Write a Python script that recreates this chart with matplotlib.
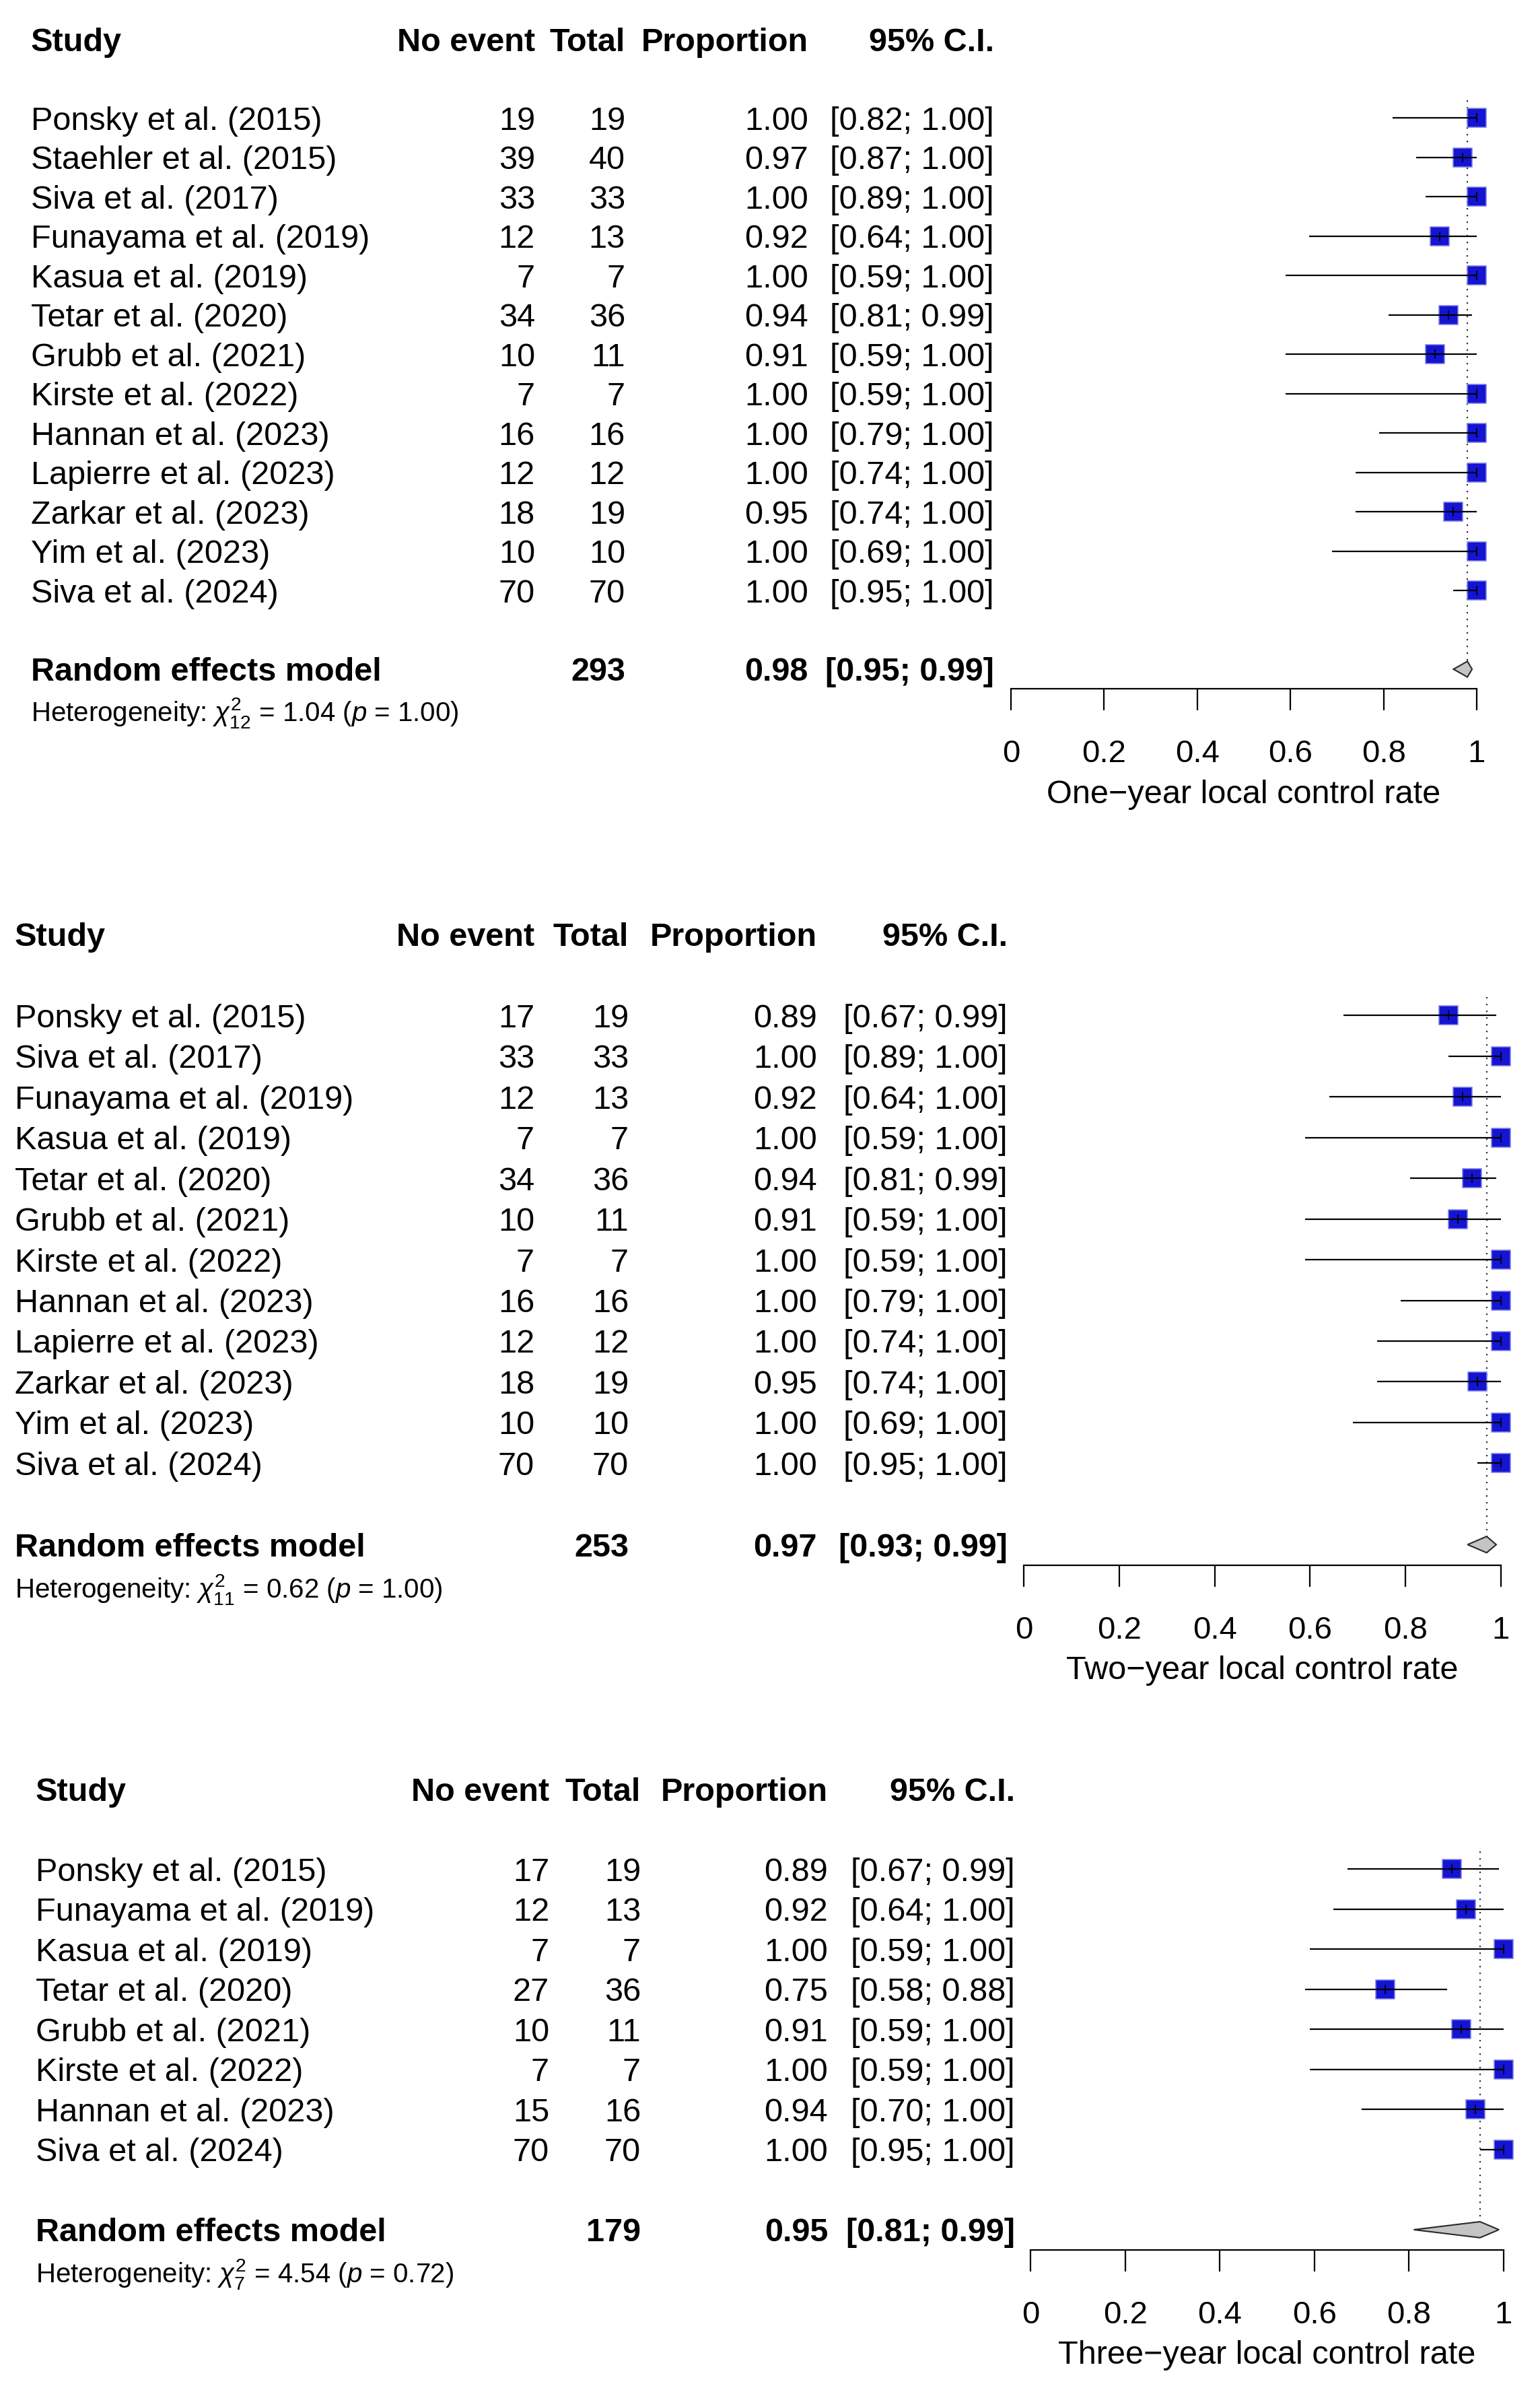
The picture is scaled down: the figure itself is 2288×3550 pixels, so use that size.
import numpy as np
import matplotlib.pyplot as plt
from matplotlib import transforms

plt.rcParams['font.family'] = ['Liberation Sans', 'DejaVu Sans']
plt.rcParams['mathtext.fontset'] = 'custom'
plt.rcParams['mathtext.rm'] = 'Liberation Sans'
plt.rcParams['mathtext.it'] = 'Liberation Sans:italic'
plt.rcParams['mathtext.bf'] = 'Liberation Sans:bold'

# ---- one-year local control
studies_1 = ["Ponsky et al. (2015)", "Staehler et al. (2015)", "Siva et al. (2017)",
             "Funayama et al. (2019)", "Kasua et al. (2019)", "Tetar et al. (2020)",
             "Grubb et al. (2021)", "Kirste et al. (2022)", "Hannan et al. (2023)",
             "Lapierre et al. (2023)", "Zarkar et al. (2023)", "Yim et al. (2023)",
             "Siva et al. (2024)"]
no_event_1 = [19, 39, 33, 12, 7, 34, 10, 7, 16, 12, 18, 10, 70]
total_1 = [19, 40, 33, 13, 7, 36, 11, 7, 16, 12, 19, 10, 70]
prop_1 = [1.00, 0.97, 1.00, 0.92, 1.00, 0.94, 0.91, 1.00, 1.00, 1.00, 0.95, 1.00, 1.00]
lower_1 = [0.82, 0.87, 0.89, 0.64, 0.59, 0.81, 0.59, 0.59, 0.79, 0.74, 0.74, 0.69, 0.95]
upper_1 = [1.00, 1.00, 1.00, 1.00, 1.00, 0.99, 1.00, 1.00, 1.00, 1.00, 1.00, 1.00, 1.00]
summary_1 = [293, 0.98, 0.95, 0.99]     # total, estimate, lower, upper
het_1 = [12, 1.04, 1.00]                # df, chi2, p

# ---- two-year local control
studies_2 = ["Ponsky et al. (2015)", "Siva et al. (2017)", "Funayama et al. (2019)",
             "Kasua et al. (2019)", "Tetar et al. (2020)", "Grubb et al. (2021)",
             "Kirste et al. (2022)", "Hannan et al. (2023)", "Lapierre et al. (2023)",
             "Zarkar et al. (2023)", "Yim et al. (2023)", "Siva et al. (2024)"]
no_event_2 = [17, 33, 12, 7, 34, 10, 7, 16, 12, 18, 10, 70]
total_2 = [19, 33, 13, 7, 36, 11, 7, 16, 12, 19, 10, 70]
prop_2 = [0.89, 1.00, 0.92, 1.00, 0.94, 0.91, 1.00, 1.00, 1.00, 0.95, 1.00, 1.00]
lower_2 = [0.67, 0.89, 0.64, 0.59, 0.81, 0.59, 0.59, 0.79, 0.74, 0.74, 0.69, 0.95]
upper_2 = [0.99, 1.00, 1.00, 1.00, 0.99, 1.00, 1.00, 1.00, 1.00, 1.00, 1.00, 1.00]
summary_2 = [253, 0.97, 0.93, 0.99]
het_2 = [11, 0.62, 1.00]

# ---- three-year local control
studies_3 = ["Ponsky et al. (2015)", "Funayama et al. (2019)", "Kasua et al. (2019)",
             "Tetar et al. (2020)", "Grubb et al. (2021)", "Kirste et al. (2022)",
             "Hannan et al. (2023)", "Siva et al. (2024)"]
no_event_3 = [17, 12, 7, 27, 10, 7, 15, 70]
total_3 = [19, 13, 7, 36, 11, 7, 16, 70]
prop_3 = [0.89, 0.92, 1.00, 0.75, 0.91, 1.00, 0.94, 1.00]
lower_3 = [0.67, 0.64, 0.59, 0.58, 0.59, 0.59, 0.70, 0.95]
upper_3 = [0.99, 1.00, 1.00, 0.88, 1.00, 1.00, 1.00, 1.00]
summary_3 = [179, 0.95, 0.81, 0.99]
het_3 = [7, 4.54, 0.72]

xlabels = ["One\u2212year local control rate", "Two\u2212year local control rate",
           "Three\u2212year local control rate"]
tick_vals = [0, 0.2, 0.4, 0.6, 0.8, 1]
tick_text = ["0", "0.2", "0.4", "0.6", "0.8", "1"]

W, H = 2288, 3550
fig = plt.figure(figsize=(W / 100, H / 100), dpi=100)

# layout in pixels: first row centre, row step, axis 0/1 x, text columns
layouts = [
    dict(row1=175.4, step=58.47, ax0=1502, ax1=2194, cols=(46, 795, 929, 1201, 1477)),
    dict(row1=1508.3, step=60.46, ax0=1521, ax1=2230, cols=(22, 794, 934, 1214, 1497)),
    dict(row1=2776.4, step=59.5, ax0=1531, ax1=2234, cols=(53, 816, 952, 1230, 1508)),
]
panels = [
    (studies_1, no_event_1, total_1, prop_1, lower_1, upper_1, summary_1, het_1),
    (studies_2, no_event_2, total_2, prop_2, lower_2, upper_2, summary_2, het_2),
    (studies_3, no_event_3, total_3, prop_3, lower_3, upper_3, summary_3, het_3),
]

FS = 35
for (studies, ne, tot, prop, lo, hi, summ, het), lay, xlab in zip(panels, layouts, xlabels):
    n = len(studies)
    step = lay['step']
    top_px = lay['row1'] - 2.5 * step
    axis_px = lay['row1'] + (n + 1.5) * step
    ax = fig.add_axes([lay['ax0'] / W, 1 - axis_px / H,
                       (lay['ax1'] - lay['ax0']) / W, (axis_px - top_px) / H])
    ax.set_xlim(0, 1)
    ax.set_ylim(n + 2.5, -1.5)
    ax.patch.set_alpha(0)
    for s in ['top', 'left', 'right']:
        ax.spines[s].set_visible(False)
    ax.spines['bottom'].set_bounds(0, 1)
    ax.spines['bottom'].set_linewidth(1.6)
    ax.set_yticks([])
    ax.set_xticks(tick_vals)
    ax.set_xticklabels(tick_text)
    ax.tick_params(axis='x', length=23, width=1.6, pad=31, labelsize=34)

    ax.set_xlabel(xlab, fontsize=FS)
    ax.xaxis.set_label_coords(0.5, n + 2.5 + 152 / step,
                              transform=transforms.blended_transform_factory(ax.transAxes, ax.transData))
    ax.xaxis.label.set_va('center_baseline')

    # study rows
    y = np.arange(1, n + 1)
    ax.scatter(prop, y, marker='s', s=380, color='#1414D2', edgecolor='#8080E8',
               linewidth=1.2, zorder=2, clip_on=False)
    ax.hlines(y, lo, hi, color='black', lw=1.6, zorder=3, clip_on=False)
    ax.scatter(prop, y, marker='|', s=90, color='black', linewidth=1.2, zorder=4, clip_on=False)

    # random effects diamond and reference line
    tot_s, est, slo, shi = summ
    ys = n + 2
    ax.fill([slo, est, shi, est], [ys, ys - 0.2, ys, ys + 0.2], facecolor='#C4C4C4',
            edgecolor='#2A2A2A', lw=1.5, zorder=3, clip_on=False)
    ax.vlines(est, 0.55, ys - 0.2, colors='#333333', linestyles=(0, (1, 3.5)), lw=1.6, zorder=1)

    # text columns
    tr = transforms.blended_transform_factory(fig.transFigure, ax.transData)
    c_study, c_ne, c_tot, c_prop, c_ci = [c / W for c in lay['cols']]
    kw = dict(transform=tr, fontsize=FS, va='center_baseline')
    hdr = dict(kw, fontweight='bold')
    ax.text(c_study, -1, "Study", ha='left', **hdr)
    ax.text(c_ne, -1, "No event", ha='right', **hdr)
    ax.text(c_tot, -1, "Total", ha='right', **hdr)
    ax.text(c_prop, -1, "Proportion", ha='right', **hdr)
    ax.text(c_ci, -1, "95% C.I.", ha='right', **hdr)
    for i in range(n):
        ax.text(c_study, y[i], studies[i], ha='left', **kw)
        ax.text(c_ne, y[i], f"{ne[i]}", ha='right', **kw)
        ax.text(c_tot, y[i], f"{tot[i]}", ha='right', **kw)
        ax.text(c_prop, y[i], f"{prop[i]:.2f}", ha='right', **kw)
        ax.text(c_ci, y[i], f"[{lo[i]:.2f}; {hi[i]:.2f}]", ha='right', **kw)
    ax.text(c_study, ys, "Random effects model", ha='left', **hdr)
    ax.text(c_tot, ys, f"{tot_s}", ha='right', **hdr)
    ax.text(c_prop, ys, f"{est:.2f}", ha='right', **hdr)
    ax.text(c_ci, ys, f"[{slo:.2f}; {shi:.2f}]", ha='right', **hdr)
    df, chi2, p = het
    ax.text(c_study, ys + 1,
            "Heterogeneity: $\\chi^2_{%d}$ = %.2f ($p$ = %.2f)" % (df, chi2, p),
            ha='left', transform=tr, fontsize=29, va='center_baseline')

fig.savefig('out.png', dpi=100)
